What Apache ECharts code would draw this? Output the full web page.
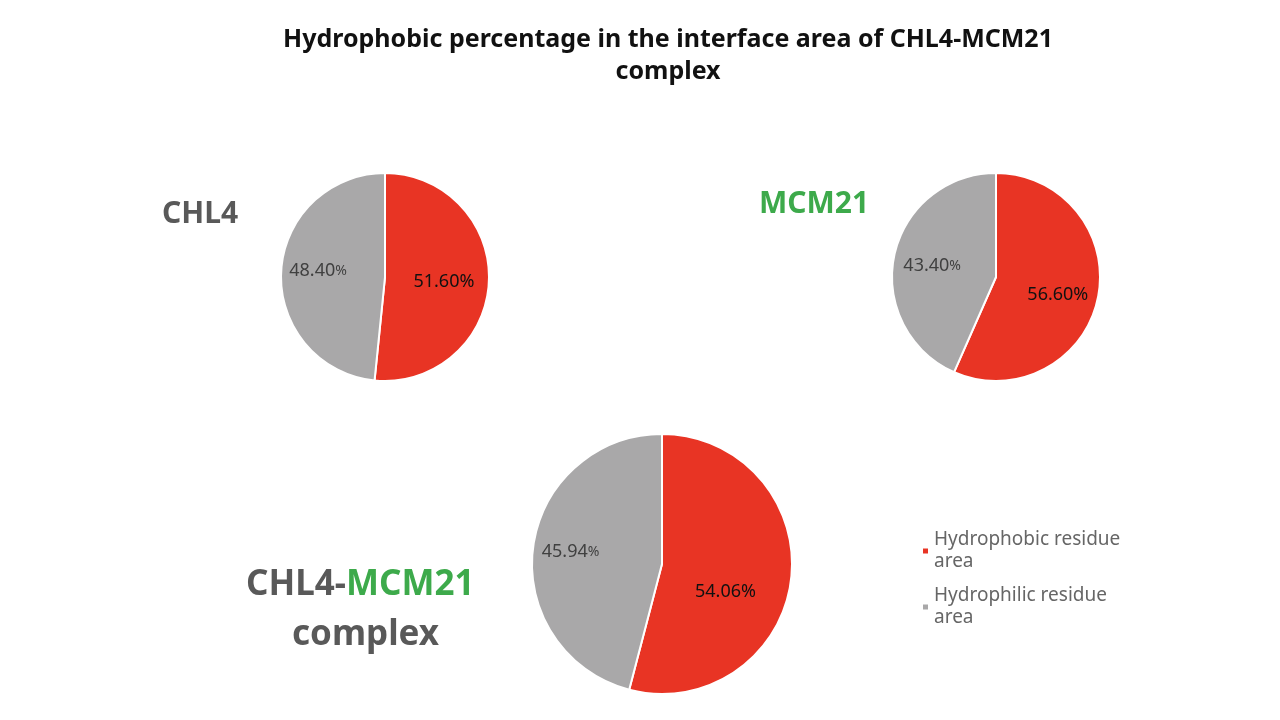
<!DOCTYPE html>
<html><head><meta charset="utf-8">
<script src="https://cdn.jsdelivr.net/npm/echarts@6/dist/echarts.min.js"></script>
<style>html,body{margin:0;padding:0;background:#fff}#c{width:1280px;height:720px}</style>
</head><body><div id="c"></div>
<script>
const categories = ['Hydrophobic residue area', 'Hydrophilic residue area'];
const chl4Values = [51.60, 48.40];
const mcm21Values = [56.60, 43.40];
const complexValues = [54.06, 45.94];
const titleText = 'Hydrophobic percentage in the interface area of CHL4-MCM21\ncomplex';
const colors = ['#E83424', '#A9A8A9'];
const labelColors = ['#111111', '#404040'];

const chart = echarts.init(document.getElementById('c'));
const font = '"Noto Sans", "DejaVu Sans", sans-serif';

function makePie(values, center, radius, offs) {
  return {
    type: 'pie',
    center: center,
    radius: radius,
    startAngle: 90,
    clockwise: true,
    silent: true,
    itemStyle: { borderColor: '#fff', borderWidth: 2 },
    label: {
      show: true,
      position: 'inside',
      formatter: p => '{n|' + p.value.toFixed(2) + '}{p' + p.dataIndex + '|%}',
      rich: {
        n: { fontSize: 18, fontFamily: font },
        p0: { fontSize: 18, fontFamily: font },
        p1: { fontSize: 14, fontFamily: font }
      }
    },
    labelLine: { show: false },
    data: values.map((v, i) => ({
      name: categories[i], value: v,
      itemStyle: { color: colors[i] },
      label: {
        color: labelColors[i],
        offset: offs[i],
        rich: { n: { color: labelColors[i] }, p0: { color: labelColors[i] }, p1: { color: labelColors[i] } }
      }
    }))
  };
}

chart.setOption({
  animation: false,
  backgroundColor: '#fff',
  legend: {
    orient: 'vertical',
    left: 916,
    top: 524,
    itemWidth: 7,
    itemHeight: 7,
    itemGap: 12,
    icon: 'rect',
    data: categories,
    formatter: n => n.replace(' area', '\narea'),
    textStyle: { fontSize: 19, color: '#666', fontFamily: font, lineHeight: 22 }
  },
  graphic: [
    { type: 'text', x: 668, y: 24, style: { text: titleText, textAlign: 'center', fontSize: 25, fontWeight: 'bold', fill: '#111', fontFamily: font, lineHeight: 32 } },
    { type: 'text', left: 162, top: 199, style: { text: 'CHL4', fontSize: 30, fontWeight: 'bold', fill: '#595959', fontFamily: font } },
    { type: 'text', left: 759, top: 189, style: { text: 'MCM21', fontSize: 30, fontWeight: 'bold', fill: '#3DAA4B', fontFamily: font } },
    { type: 'text', left: 246, top: 568, style: {
        text: '{a|CHL4-}{b|MCM21}',
        rich: {
          a: { fontSize: 35, fontWeight: 'bold', fill: '#595959', color: '#595959', fontFamily: font },
          b: { fontSize: 35, fontWeight: 'bold', fill: '#3DAA4B', color: '#3DAA4B', fontFamily: font }
        }
    } },
    { type: 'text', left: 292, top: 618, style: { text: 'complex', fontSize: 35, fontWeight: 'bold', fill: '#595959', fontFamily: font } }
  ],
  series: [
    makePie(chl4Values, [385, 277], 104, [[4, 2], [-12, -3]]),
    makePie(mcm21Values, [996, 277], 104, [[8, 7], [-10, 0]]),
    makePie(complexValues, [662, 564], 130, [[-4, 19], [-24, -3]])
  ]
});
</script></body></html>
